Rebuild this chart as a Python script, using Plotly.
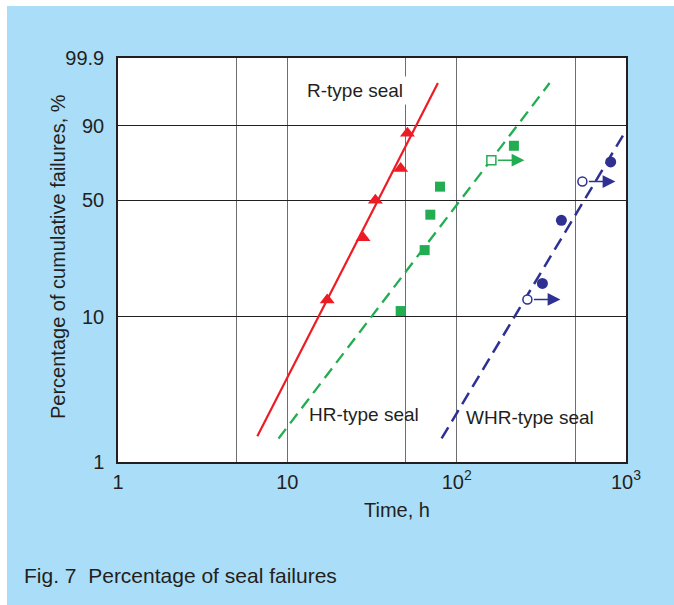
import numpy as np
import plotly.graph_objects as go

# ---- data: cumulative failure percentage vs operating time (Weibull paper) ----
r_time = [17.2, 28.0, 33.1, 46.7, 51.2]
r_pct = [12.9, 31.4, 50.0, 68.6, 87.1]

hr_time = [46.7, 64.7, 69.9, 79.7, 217.8]
hr_pct = [10.9, 26.6, 42.2, 57.8, 81.2]
hr_susp_time = [160.3]
hr_susp_pct = [73.4]

whr_time = [320.8, 415.3, 812.0]
whr_pct = [16.5, 39.4, 72.4]
whr_susp_time = [261.6, 552.6]
whr_susp_pct = [13.0, 60.8]

# fitted Weibull lines (start / end points)
r_fit_time = [6.65, 77.5]
r_fit_pct = [1.51, 99.0]
hr_fit_time = [8.88, 354.0]
hr_fit_pct = [1.46, 99.0]
whr_fit_time = [81.5, 978.0]
whr_fit_pct = [1.46, 87.1]

y_tick_pct = [1, 10, 50, 90, 99.9]
y_tick_text = ["1", "10", "50", "90", "99.9"]
x_tick_vals = [1, 10, 100, 1000]
x_tick_text = ["1", "10", "10<sup>2</sup>", "10<sup>3</sup>"]
x_minor_grid = [5, 50, 500]

# ---- styling ----
RED = "#ed1c24"
GREEN = "#22ad52"
BLUE = "#2e3192"
INK = "#231f20"
SKY = "rgb(170,222,248)"
FONT = "Liberation Sans, Arial, Helvetica, sans-serif"

W, H = 674, 605
ML, MR, MT, MB = 118, 48, 58, 143
PW, PH = W - ML - MR, H - MT - MB

ARROW_FACTOR = 10 ** (33 / 169.3)   # suspension arrow length along time axis


def weibull(p):
    p = np.asarray(p, dtype=float) / 100.0
    return np.log(-np.log(1.0 - p))


def px_x(px):
    return (px - ML) / PW


def px_y(py):
    return (H - MB - py) / PH


fig = go.Figure()

# fitted lines
fig.add_trace(go.Scatter(x=r_fit_time, y=weibull(r_fit_pct), mode="lines",
                         line=dict(color=RED, width=2.2), hoverinfo="skip"))
fig.add_trace(go.Scatter(x=hr_fit_time, y=weibull(hr_fit_pct), mode="lines",
                         line=dict(color=GREEN, width=2.3, dash="12px,7px"),
                         hoverinfo="skip"))
fig.add_trace(go.Scatter(x=whr_fit_time, y=weibull(whr_fit_pct), mode="lines",
                         line=dict(color=BLUE, width=2.5, dash="13px,7px"),
                         hoverinfo="skip"))

# failure points
fig.add_trace(go.Scatter(x=r_time, y=weibull(r_pct), mode="markers",
                         marker=dict(symbol="triangle-up", size=13, color=RED,
                                     line=dict(width=0))))
fig.add_trace(go.Scatter(x=hr_time, y=weibull(hr_pct), mode="markers",
                         marker=dict(symbol="square", size=10, color=GREEN,
                                     line=dict(width=0))))
fig.add_trace(go.Scatter(x=whr_time, y=weibull(whr_pct), mode="markers",
                         marker=dict(symbol="circle", size=11, color=BLUE,
                                     line=dict(width=0))))

# suspended (still running) items
fig.add_trace(go.Scatter(x=hr_susp_time, y=weibull(hr_susp_pct), mode="markers",
                         marker=dict(symbol="square", size=9, color="white",
                                     line=dict(width=1.5, color=GREEN))))
fig.add_trace(go.Scatter(x=whr_susp_time, y=weibull(whr_susp_pct), mode="markers",
                         marker=dict(symbol="circle", size=9, color="white",
                                     line=dict(width=1.5, color=BLUE))))

annotations = []
for times, pcts, col in [(hr_susp_time, hr_susp_pct, GREEN),
                         (whr_susp_time, whr_susp_pct, BLUE)]:
    for t, p in zip(times, pcts):
        annotations.append(dict(
            x=np.log10(t * ARROW_FACTOR), y=float(weibull(p)), xref="x", yref="y",
            text="", showarrow=True, ax=-28, ay=0, arrowhead=2, arrowsize=1.7,
            arrowwidth=1.5, arrowcolor=col, standoff=0, startstandoff=0))


def label(px, py, text, size=19, **kw):
    opts = dict(x=px_x(px), y=px_y(py), xref="paper", yref="paper", text=text,
                showarrow=False, xanchor="center", yanchor="middle",
                font=dict(family=FONT, size=size, color=INK))
    opts.update(kw)
    return opts


annotations += [
    label(355, 91, "R-type seal", bgcolor="white", borderpad=3),
    label(363.6, 414.5, "HR-type seal"),
    label(530, 417.5, "WHR-type seal"),
    label(57.3, 256.7, "Percentage of cumulative failures, %", size=20,
          textangle=-90),
    label(397, 510, "Time, h", size=20),
    label(22, 575, "Fig. 7  Percentage of seal failures", size=21,
          xanchor="left"),
]

# white page strip around the coloured panel
shapes = [
    dict(type="rect", xref="paper", yref="paper", x0=px_x(-5), x1=px_x(7),
         y0=px_y(H + 5), y1=px_y(-5), fillcolor="white", line=dict(width=0),
         layer="below"),
    dict(type="rect", xref="paper", yref="paper", x0=px_x(-5), x1=px_x(W + 5),
         y0=px_y(6), y1=px_y(-5), fillcolor="white", line=dict(width=0),
         layer="below"),
]

fig.update_layout(
    width=W, height=H,
    margin=dict(l=ML, r=MR, t=MT, b=MB, autoexpand=False),
    paper_bgcolor=SKY, plot_bgcolor="white",
    showlegend=False,
    annotations=annotations, shapes=shapes,
    font=dict(family=FONT, color=INK),
)

fig.update_xaxes(
    type="log", range=[0, 3], tickmode="array", tickvals=x_tick_vals,
    ticktext=x_tick_text, ticks="", ticklabelstandoff=1,
    tickfont=dict(family=FONT, size=20, color=INK),
    showgrid=True, gridcolor="#6d6e71", gridwidth=1.3,
    minor=dict(tickvals=x_minor_grid, showgrid=True, gridcolor="#6d6e71",
               gridwidth=1.3, ticks=""),
    showline=True, linecolor=INK, linewidth=1.5, mirror=True,
    zeroline=False, automargin=False,
)
fig.update_yaxes(
    range=[float(weibull(1)), float(weibull(99.9))], tickmode="array",
    tickvals=weibull(y_tick_pct), ticktext=y_tick_text, ticks="",
    ticklabelstandoff=8,
    tickfont=dict(family=FONT, size=20, color=INK),
    showgrid=True, gridcolor=INK, gridwidth=1,
    showline=True, linecolor=INK, linewidth=1.5, mirror=True,
    zeroline=False, automargin=False,
)

fig.write_html("out.html")
